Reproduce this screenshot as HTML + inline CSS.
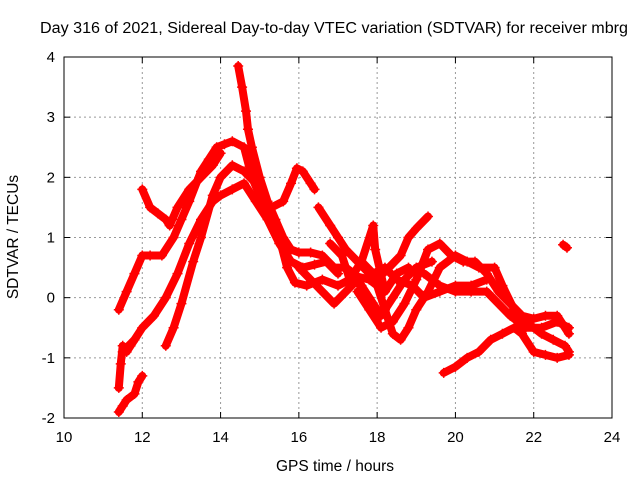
<!DOCTYPE html>
<html><head><meta charset="utf-8"><style>
body{margin:0;background:#fff}
svg{display:block;font-family:"Liberation Sans",sans-serif}
</style></head><body>
<svg id="c" width="640" height="480">
<text x="334" y="33" text-anchor="middle" font-size="15.5" textLength="588" lengthAdjust="spacingAndGlyphs">Day 316 of 2021, Sidereal Day-to-day VTEC variation (SDTVAR) for receiver mbrg</text>
<text x="335" y="471" text-anchor="middle" font-size="15.5">GPS time / hours</text>
<text transform="translate(18,237) rotate(-90)" text-anchor="middle" font-size="15.5">SDTVAR / TECUs</text>
<g id="grid"></g><g id="marks"></g>
<rect x="64" y="57" width="548" height="361" fill="none" stroke="#000"/>
</svg>
<script>
const xTicks=[10,12,14,16,18,20,22,24];
const yTicks=[-2,-1,0,1,2,3,4];
const trackA=[[11.4,-0.2],[11.6,0.1],[11.8,0.4],[12.0,0.7],[12.2,0.7],[12.5,0.7],[12.8,1.0],[13.0,1.3],[13.2,1.6],[13.5,2.1],[13.7,2.3],[13.9,2.5],[14.1,2.55],[14.3,2.6],[14.6,2.5],[14.8,2.0],[15.0,1.7],[15.3,1.5],[15.6,1.6],[15.8,1.9],[15.95,2.15],[16.1,2.1],[16.3,1.9],[16.4,1.8]];
const trackB=[[12.0,1.8],[12.2,1.5],[12.4,1.4],[12.6,1.3],[12.7,1.2],[12.9,1.5],[13.2,1.8],[13.5,2.0],[13.8,2.2],[14.0,2.4]];
const trackPeak=[[14.45,3.85],[14.55,3.5],[14.65,3.1],[14.7,2.8],[14.8,2.5],[15.0,2.0],[15.2,1.6],[15.4,1.3],[15.6,1.0],[15.8,0.8],[16.0,0.75],[16.3,0.75],[16.6,0.7],[16.9,0.5],[17.2,0.5],[17.5,0.35],[17.8,0.3],[18.0,0.2]];
const trackC=[[11.5,-0.9],[11.8,-0.7],[12.0,-0.5],[12.3,-0.3],[12.6,0.0],[12.9,0.4],[13.2,0.9],[13.5,1.3],[13.8,1.6],[14.0,1.7],[14.3,1.8],[14.6,1.9],[14.9,1.6],[15.2,1.3],[15.5,0.9],[15.8,0.6],[16.1,0.5],[16.4,0.55],[16.7,0.6],[17.0,0.4]];
const trackD=[[12.6,-0.8],[12.8,-0.5],[13.0,-0.1],[13.3,0.6],[13.5,1.0],[13.8,1.7],[14.0,2.0],[14.3,2.2],[14.6,2.1],[14.9,1.9],[15.2,1.5],[15.5,1.0],[15.7,0.5],[15.9,0.25],[16.2,0.2],[16.6,0.3],[17.0,0.2],[17.3,0.3],[17.6,0.2]];
const trackLow=[[11.4,-1.9],[11.5,-1.8],[11.6,-1.7],[11.8,-1.6],[11.9,-1.4],[12.0,-1.3]];
const trackLow2=[[11.4,-1.5],[11.45,-1.1],[11.5,-0.8],[11.6,-0.9],[11.7,-0.8],[11.8,-0.7]];
const trackE=[[16.5,1.5],[16.8,1.2],[17.0,1.0],[17.2,0.8],[17.5,0.6],[17.8,0.4],[18.0,0.2],[18.2,-0.2],[18.4,-0.6],[18.6,-0.7],[18.8,-0.5],[19.0,-0.2],[19.3,0.1],[19.6,0.5],[20.0,0.7],[20.3,0.6],[20.6,0.5],[21.0,0.5],[21.2,0.2],[21.5,-0.2],[21.8,-0.4],[22.2,-0.6],[22.5,-0.7],[22.8,-0.8],[22.9,-0.9]];
const trackF=[[18.0,0.3],[18.3,0.5],[18.6,0.7],[18.8,1.0],[19.0,1.15],[19.3,1.35]];
const trackG=[[17.5,0.1],[17.8,-0.2],[18.1,-0.5],[18.4,-0.4],[18.7,-0.1],[19.0,0.3],[19.3,0.8],[19.6,0.9],[19.9,0.7],[20.2,0.6],[20.5,0.6],[20.8,0.4],[21.1,0.1],[21.4,-0.1],[21.7,-0.3],[22.0,-0.35],[22.3,-0.3],[22.6,-0.3],[22.9,-0.6]];
const trackH=[[19.2,0.4],[19.6,0.2],[20.0,0.1],[20.4,0.1],[20.8,0.1],[21.1,-0.1],[21.4,-0.3],[21.8,-0.5],[22.2,-0.5],[22.6,-0.4],[22.9,-0.5]];
const trackI=[[19.7,-1.25],[20.0,-1.15],[20.3,-1.0],[20.6,-0.9],[20.9,-0.7],[21.2,-0.6],[21.5,-0.5],[21.7,-0.6],[22.0,-0.9],[22.3,-0.95],[22.6,-1.0],[22.9,-0.95]];
const trackJ=[[16.8,0.9],[17.1,0.7],[17.3,0.3],[17.6,0.6],[17.9,1.2],[17.95,0.8],[18.2,0.1],[18.5,0.4],[18.8,0.5]];
const trackL=[[16.0,0.5],[16.3,0.3],[16.6,0.1],[16.9,-0.1],[17.2,0.1],[17.5,0.3],[17.8,0.0],[18.1,-0.3],[18.4,0.0],[18.7,0.3],[19.0,0.5],[19.4,0.6]];
const trackM=[[17.6,0.6],[17.9,0.4],[18.2,0.5],[18.5,0.3],[18.9,0.2],[19.2,0.0],[19.6,0.1],[20.0,0.2],[20.4,0.2],[20.8,0.3]];
const trackK=[[22.75,0.88],[22.85,0.83]];
const tracks=[trackA,trackB,trackPeak,trackC,trackD,trackLow,trackLow2,trackE,trackF,trackG,trackH,trackI,trackJ,trackL,trackM,trackK];
const X=v=>64+(v-10)*(548/14);
const Y=v=>418-(v+2)*(361/6);
const NS="http://www.w3.org/2000/svg";
const grid=document.getElementById('grid'),marks=document.getElementById('marks'),svg=document.getElementById('c');
function mk(t,a,p){const e=document.createElementNS(NS,t);for(const k in a)e.setAttribute(k,a[k]);p.appendChild(e);return e;}
xTicks.forEach(t=>{const x=X(t);
 if(t>10&&t<24){const l=mk('line',{x1:x,x2:x,y1:57,y2:418,stroke:'#999','stroke-dasharray':'2,3'},grid);}
 mk('line',{x1:x,x2:x,y1:418,y2:412,stroke:'#000'},grid);mk('line',{x1:x,x2:x,y1:57,y2:63,stroke:'#000'},grid);
 const s=mk('text',{x:x,y:442,'text-anchor':'middle','font-size':15},svg);s.textContent=t;
 });
yTicks.forEach(t=>{const y=Y(t);
 if(t>-2&&t<4){const l=mk('line',{x1:64,x2:612,y1:y,y2:y,stroke:'#999','stroke-dasharray':'2,3'},grid);}
 mk('line',{x1:64,x2:70,y1:y,y2:y,stroke:'#000'},grid);mk('line',{x1:612,x2:606,y1:y,y2:y,stroke:'#000'},grid);
 const s=mk('text',{x:55,y:y+5,'text-anchor':'end','font-size':15},svg);s.textContent=t;
 });
tracks.forEach(tr=>{
 const p=mk('polyline',{points:tr.map(d=>X(d[0])+','+Y(d[1])).join(' '),fill:'none',stroke:'#f00','stroke-width':8,'stroke-linejoin':'round','stroke-linecap':'round'},marks);
 
 
 tr.forEach(d=>{const x=X(d[0]),y=Y(d[1]);
  const m=mk('path',{d:`M${x-5},${y}h10M${x},${y-5}v10`,stroke:'#f00','stroke-width':1.5},marks);
  
  });
});
</script>
</body></html>
